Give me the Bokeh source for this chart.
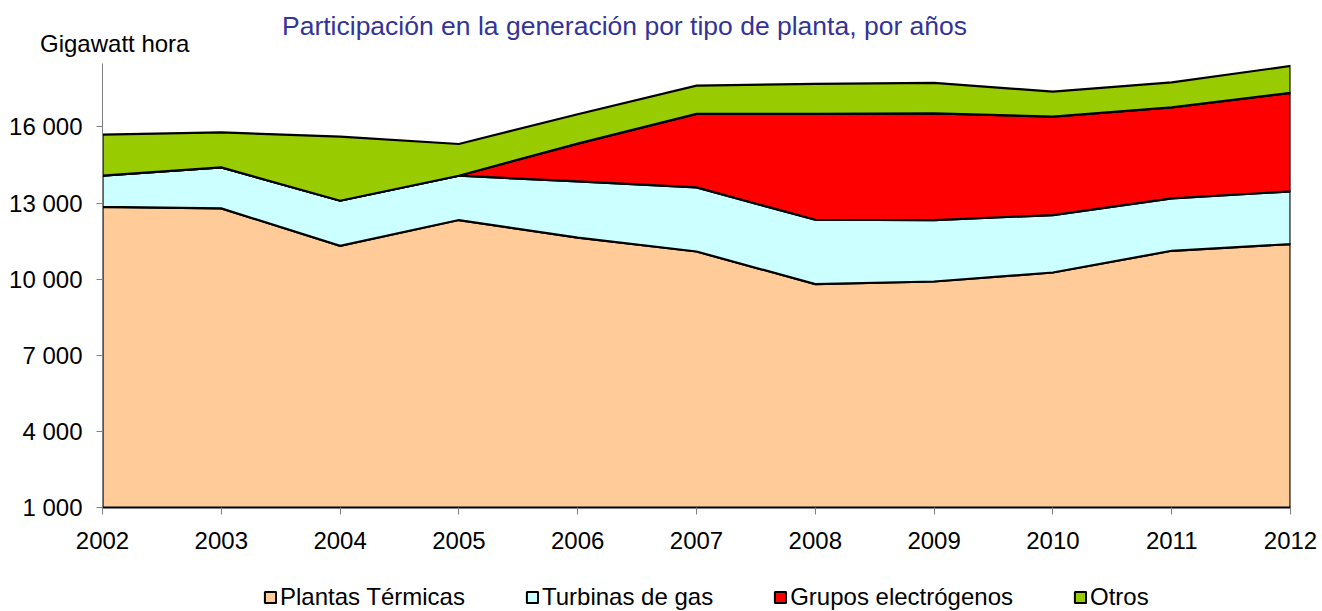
from bokeh.plotting import figure
from bokeh.models import Range1d, FixedTicker, CustomJSTickFormatter, Div
from bokeh.layouts import column
from bokeh.embed import file_html
from bokeh.resources import INLINE

years = [2002, 2003, 2004, 2005, 2006, 2007, 2008, 2009, 2010, 2011, 2012]
plantas_termicas = [12850, 12790, 11315, 12330, 11640, 11090, 9805, 9907, 10262, 11118, 11383]
turbinas_gas = [1227, 1614, 1776, 1747, 2212, 2525, 2536, 2423, 2265, 2064, 2075]
grupos_electrogenos = [0, 0, 0, 0, 1490, 2896, 4170, 4205, 3877, 3589, 3881]
otros = [1617, 1381, 2524, 1250, 1160, 1116, 1183, 1199, 987, 986, 1065]

series_names = ["Plantas Térmicas", "Turbinas de gas", "Grupos electrógenos", "Otros"]
series_values = [plantas_termicas, turbinas_gas, grupos_electrogenos, otros]
series_colors = ["#FFCC99", "#CCFFFF", "#FF0000", "#99CC00"]
y_ticks = [1000, 4000, 7000, 10000, 13000, 16000]

title_text = "Participación en la generación por tipo de planta, por años"
unit_text = "Gigawatt hora"

FONT = "Liberation Sans"
W = 1322

# ---- header: title and unit label as real HTML text ----
head_html = (
    '<div style="position:relative;width:%dpx;height:63px;margin:0;padding:0;'
    'font-family:\'%s\';">'
    '<span style="position:absolute;left:282px;top:13px;font-size:26.5px;line-height:1;'
    'color:#333399;white-space:nowrap;">%s</span>'
    '<span style="position:absolute;left:40px;top:32px;font-size:24px;line-height:1;'
    'color:#000000;white-space:nowrap;">%s</span>'
    '</div>' % (W, FONT, title_text, unit_text)
)
head = Div(text=head_html, width=W, height=63, margin=0)

# ---- main chart ----
p = figure(width=W, height=497, output_backend="svg", toolbar_location=None,
           x_range=Range1d(2002, 2012), y_range=Range1d(1000, 18500),
           min_border_left=102, min_border_right=32, min_border_top=0, min_border_bottom=53)
p.outline_line_color = None
p.xgrid.visible = False
p.ygrid.visible = False

tops = []
bottom = [0] * len(years)
for name, vals, col in zip(series_names, series_values, series_colors):
    top = [b + v for b, v in zip(bottom, vals)]
    p.patch(years + years[::-1], top + bottom[::-1], fill_color=col,
            line_color="black", line_width=2.2, line_join="miter")
    tops.append(top)
    bottom = top

p.xaxis.ticker = FixedTicker(ticks=years)
p.yaxis.ticker = FixedTicker(ticks=y_ticks)
p.yaxis.formatter = CustomJSTickFormatter(code=r"return tick.toString().replace(/\B(?=(\d{3})+(?!\d))/g, ' ');")
for ax in (p.xaxis[0], p.yaxis[0]):
    ax.major_label_text_font = FONT
    ax.major_label_text_font_size = "24px"
    ax.major_label_text_color = "black"
    ax.minor_tick_line_color = None
    ax.major_tick_in = 0
    ax.major_tick_line_color = "#808080"
p.xaxis.major_tick_out = 7
p.yaxis.major_tick_out = 6
p.xaxis.axis_line_color = "black"
p.xaxis.axis_line_width = 2
p.yaxis.axis_line_color = "#808080"
p.xaxis.major_label_standoff = 17
p.yaxis.major_label_standoff = 14

# ---- legend strip (frame aligned with the chart frame) ----
leg = figure(width=W, height=51, output_backend="svg", toolbar_location=None,
             x_range=Range1d(2002, 2012), y_range=Range1d(0, 1),
             x_axis_location=None, y_axis_location=None,
             min_border_left=102, min_border_right=32, min_border_top=0, min_border_bottom=0)
leg.outline_line_color = None
leg.xgrid.visible = False
leg.ygrid.visible = False
# legend swatches: same series outlines, lying outside this strip's y-range (not visible)
for name, top, col in zip(series_names, tops, series_colors):
    leg.patch(years, top, fill_color=col, line_color="black", line_width=2, legend_label=name)
lg = leg.legend[0]
lg.orientation = "horizontal"
lg.location = (161, 0)
lg.padding = 0
lg.margin = 0
lg.spacing = 60
lg.glyph_width = 14
lg.glyph_height = 14
lg.label_standoff = 3
lg.label_text_font = FONT
lg.label_text_font_size = "24px"
lg.label_text_color = "black"
lg.border_line_color = None
lg.background_fill_alpha = 0

layout = column(head, p, leg, spacing=0)
open("out.html", "w").write(file_html(layout, INLINE))
